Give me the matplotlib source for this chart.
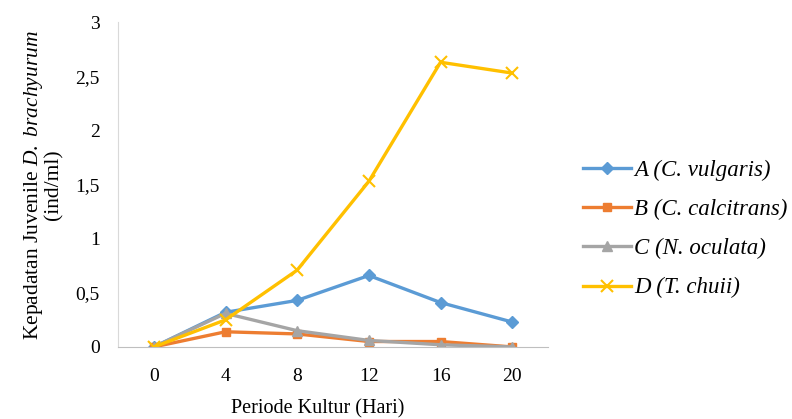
import matplotlib
matplotlib.use('Agg')
import matplotlib.pyplot as plt

# data
days = ['0', '4', '8', '12', '16', '20']
series_a = [0.0, 0.32, 0.43, 0.66, 0.41, 0.23]
series_b = [0.0, 0.14, 0.12, 0.05, 0.05, 0.0]
series_c = [0.0, 0.31, 0.15, 0.06, 0.02, 0.0]
series_d = [0.0, 0.25, 0.71, 1.53, 2.63, 2.53]
labels = ['A (C. vulgaris)', 'B (C. calcitrans)', 'C (N. oculata)', 'D (T. chuii)']
y_ticks = [0, 0.5, 1, 1.5, 2, 2.5, 3]
y_tick_labels = ['0', '0,5', '1', '1,5', '2', '2,5', '3']

plt.rcParams['font.family'] = ['Liberation Serif', 'DejaVu Serif']
plt.rcParams['mathtext.fontset'] = 'custom'
plt.rcParams['mathtext.rm'] = 'Liberation Serif'
plt.rcParams['mathtext.it'] = 'Liberation Serif:italic'

fig = plt.figure(figsize=(7.92, 4.19), dpi=100)
ax = fig.add_axes([0.149, 0.172, 0.543, 0.775])

x = list(range(len(days)))
styles = [
    (series_a, '#5B9BD5', 'D', 6),
    (series_b, '#ED7D31', 's', 6),
    (series_c, '#A5A5A5', '^', 7),
    (series_d, '#FFC000', 'x', 8),
]
for (vals, col, mk, ms), lab in zip(styles, labels):
    ax.plot(x, vals, color=col, marker=mk, markersize=ms, linewidth=2.4,
            markeredgewidth=1.5 if mk == 'x' else 1, label=lab)

ax.set_xlim(-0.5, 5.5)
ax.set_ylim(0, 3)
ax.set_xticks(x)
ax.set_xticklabels(days, fontsize=14)
ax.set_yticks(y_ticks)
ax.set_yticklabels(y_tick_labels, fontsize=14)
ax.tick_params(length=0)
ax.tick_params(axis='x', pad=15)
ax.tick_params(axis='y', pad=13)

for s in ['top', 'right']:
    ax.spines[s].set_visible(False)
ax.spines['left'].set_color('#D9D9D9')
ax.spines['bottom'].set_color('#BFBFBF')

ax.set_xlabel('Periode Kultur (Hari)', fontsize=14.5, labelpad=9)
ax.xaxis.set_label_coords(0.465, -0.16)
ax.set_ylabel('Kepadatan Juvenile $D.$ $\\mathit{brachyurum}$\n(ind/ml)',
              fontsize=15.5, labelpad=9, linespacing=0.95)

ax.legend(loc='center left', bbox_to_anchor=(1.081, 0.362), frameon=False,
          prop={'family': 'Liberation Serif', 'style': 'italic', 'size': 16.5},
          labelspacing=0.78, handlelength=2.1, handletextpad=0.15,
          borderpad=0, borderaxespad=0)

fig.savefig('out.png', dpi=100)
